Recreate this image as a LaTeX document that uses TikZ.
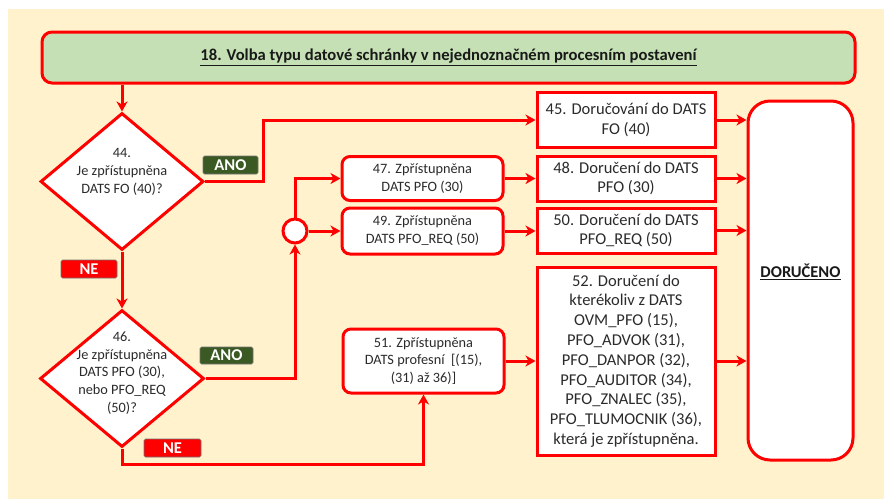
\documentclass[tikz,border=0pt]{standalone}
\usepackage{fontspec}
\setmainfont{Carlito}
\usetikzlibrary{arrows.meta,shapes.geometric}
\definecolor{bg}{HTML}{FFF2CC}
\definecolor{ttlgreen}{HTML}{C5E0B4}
\definecolor{rd}{HTML}{FF0000}
\definecolor{anogreen}{HTML}{3B5A23}
\definecolor{txt}{HTML}{2B2B2B}
\begin{document}
\begin{tikzpicture}[x=1pt,y=-1pt,
  conn/.style={draw=rd, line width=3pt, -{Stealth[length=10pt,width=11pt,inset=3pt]}},
  redbox/.style={draw=rd, line width=3pt, fill=white, text=txt, align=center, inner sep=2pt},
  bigtext/.style={font=\fontsize{16.5}{19.8}\selectfont},
  smalltext/.style={font=\fontsize{14.3}{17.8}\selectfont},
  roundbox/.style={redbox, rounded corners=8pt},
  decision/.style={diamond, draw=rd, line width=3pt, fill=white, inner sep=0pt},
  dtext/.style={text=txt, align=center, font=\fontsize{14.3}{17.8}\selectfont},
  tag/.style={draw=black!55, line width=0.6pt, rounded corners=1.5pt, text=white,
    font=\fontsize{16.5}{18}\selectfont\bfseries, inner sep=0pt},
  anotag/.style={tag, fill=anogreen},
  netag/.style={tag, fill=rd}]

  % canvas
  \useasboundingbox (0,0) rectangle (884,499);
  \fill[bg] (8,9) rectangle (884,499);

  % heading
  \node[draw=rd, line width=3pt, fill=ttlgreen, rounded corners=10pt,
        minimum width=813pt, minimum height=51pt, text=black!90,
        font=\fontsize{16.6}{19}\selectfont\bfseries]
    (title) at (448.5,57.5) {\underline{18. Volba typu datové schránky v nejednoznačném procesním postavení}};

  % decisions
  \node[decision, minimum width=163pt, minimum height=137pt] (d44) at (122,181.5) {};
  \node[dtext] (d44t) at (122,172) {44.\\Je zpřístupněna\\DATS FO (40)?};
  \node[decision, minimum width=164pt, minimum height=137pt] (d46) at (122,378.5) {};
  \node[dtext] (d46t) at (122,373) {46.\\Je zpřístupněna\\DATS PFO (30),\\nebo PFO\_REQ\\(50)?};

  % junction
  \node[circle, draw=rd, line width=3pt, fill=white, minimum size=24pt, inner sep=0pt] (c) at (295,231) {};

  % availability checks
  \node[roundbox, smalltext, minimum width=161pt, minimum height=44pt] (b47) at (422.5,178.5)
    {47. Zpřístupněna\\DATS PFO (30)};
  \node[roundbox, smalltext, minimum width=161pt, minimum height=46pt] (b49) at (422.5,231)
    {49. Zpřístupněna\\DATS PFO\_REQ (50)};
  \node[roundbox, smalltext, minimum width=161pt, minimum height=64pt] (b51) at (423.5,361)
    {51. Zpřístupněna\\DATS profesní\ \ [(15),\\(31) až 36)]};

  % deliveries
  \node[redbox, bigtext, minimum width=178pt, minimum height=55pt] (b45) at (626,120)
    {45. Doručování do DATS\\FO (40)};
  \node[redbox, bigtext, minimum width=178pt, minimum height=45pt] (b48) at (626,178.5)
    {48. Doručení do DATS\\PFO (30)};
  \node[redbox, bigtext, minimum width=178pt, minimum height=45pt] (b50) at (626,230.5)
    {50. Doručení do DATS\\PFO\_REQ (50)};
  \node[redbox, bigtext, minimum width=178pt, minimum height=188pt] (b52) at (626,361)
    {52. Doručení do\\kterékoliv z DATS\\OVM\_PFO (15),\\PFO\_ADVOK (31),\\PFO\_DANPOR (32),\\PFO\_AUDITOR (34),\\PFO\_ZNALEC (35),\\PFO\_TLUMOCNIK (36),\\která je zpřístupněna.};

  % final state
  \node[draw=rd, line width=3pt, fill=white, rounded corners=22pt,
        minimum width=105pt, minimum height=359pt] (done) at (800.5,280.5) {};
  \node[text=black!90, font=\fontsize{16.5}{19}\selectfont\bfseries] (donet) at (800.5,272) {\underline{DORUČENO}};

  % branch tags
  \node[anotag, minimum width=55pt, minimum height=18pt] (ano1) at (230.5,165) {ANO};
  \node[netag, minimum width=56pt, minimum height=18pt] (ne1) at (89,269) {NE};
  \node[anotag, minimum width=53pt, minimum height=17pt] (ano2) at (226.5,355.5) {ANO};
  \node[netag, minimum width=57pt, minimum height=18pt] (ne2) at (172.5,448) {NE};

  % bend points
  \coordinate (k1) at (263,181.5);
  \coordinate (k2) at (122,464);

  % connectors
  \draw[conn] (title.south -| d44) -- (d44.north);
  \draw[conn] (d44.east) -- (k1) |- (b45.west);
  \draw[conn] (d44.south) -- (d46.north);
  \draw[conn] (d46.east) -| (c.south);
  \draw[conn] (c.north) |- (b47.west);
  \draw[conn] (c.east) -- (b49.west);
  \draw[conn] (d46.south) -- (k2) -| (b51.south);
  \draw[conn] (b47.east) -- (b48.west);
  \draw[conn] (b49.east) -- (b50.west |- b49.east);
  \draw[conn] (b51.east) -- (b52.west);
  \draw[conn] (b45.east) -- (b45.east -| done.west);
  \draw[conn] (b48.east) -- (b48.east -| done.west);
  \draw[conn] (b50.east) -- (b50.east -| done.west);
  \draw[conn] (b52.east) -- (b52.east -| done.west);
\end{tikzpicture}
\end{document}
